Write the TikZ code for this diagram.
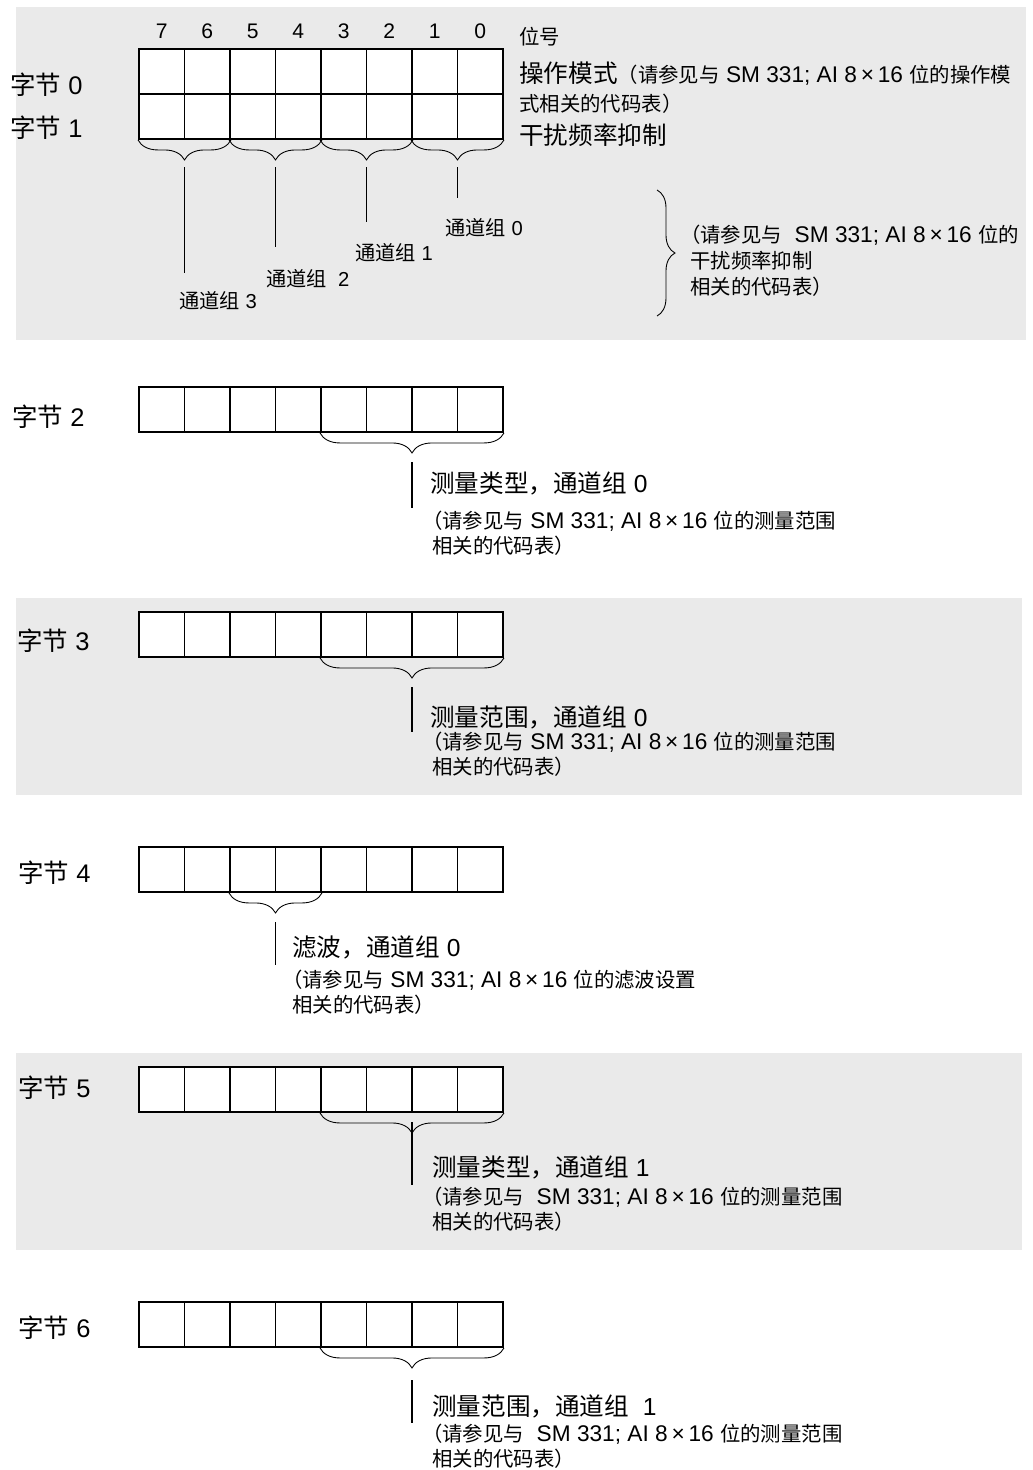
\documentclass[tikz,border=0pt]{standalone}
\usepackage{fontspec}
\setmainfont{Liberation Sans}
\newfontfamily\cjk{Noto Sans CJK SC}
\newfontfamily\cjksub[Scale=0.9]{Noto Sans CJK SC}
\newcommand{\zh}[1]{{\cjk #1}}
\newcommand{\zs}[1]{{\cjksub #1}}
\usepackage{tikz}
\usetikzlibrary{decorations.pathreplacing}
\definecolor{panelgray}{RGB}{234,234,234}

\begin{document}
\begin{tikzpicture}[x=0.02cm, y=-0.02cm,
    panel/.style={fill=panelgray, draw=none},
    cell/.style={
        rectangle, draw=black, line width=1.1pt, fill=white,
        minimum width=0.91cm, minimum height=0.9cm, inner sep=0pt
    },
    bitnum/.style={font=\fontsize{12}{14}\selectfont, inner sep=0pt},
    bytelabel/.style={anchor=west, inner sep=0pt, font=\fontsize{14.5}{17}\selectfont},
    mainlabel/.style={anchor=west, inner sep=0pt, font=\fontsize{14}{17}\selectfont},
    grplabel/.style={anchor=west, inner sep=0pt, font=\fontsize{11.5}{14}\selectfont},
    note/.style={anchor=west, inner sep=0pt, align=left, font=\fontsize{12.9}{14.2}\selectfont},
    brace/.style={decorate, decoration={brace, mirror, amplitude=0.4cm}, line width=0.5pt},
    rbrace/.style={decorate, decoration={brace, amplitude=0.36cm}, line width=0.5pt},
    lead/.style={line width=0.85pt},
]
\useasboundingbox (0,0) rectangle (1033,1470);

%% Pannelli grigi
\fill[panel] (16,7) rectangle (1026,340);
\fill[panel] (16,598) rectangle (1022,795);
\fill[panel] (16,1053) rectangle (1022,1250);

%% Celle dei byte
\foreach \rw/\yc in {0/71.5, 1/116.5, 2/409.5, 3/634.5, 4/869.5, 5/1089.5, 6/1324.5}
    \foreach \bt in {0,...,7}
        \node[cell] (r\rw b\bt) at ({161.75+(7-\bt)*45.5},\yc) {};

%% Numeri dei bit
\foreach \bt in {0,...,7}
    \node[bitnum] (bit\bt) at ({161.75+(7-\bt)*45.5},31) {\bt};

%% Etichette dei byte
\node[bytelabel] (lb0) at (10,85) {\zh{字节} 0};
\node[bytelabel] (lb1) at (10,128) {\zh{字节} 1};
\node[bytelabel] (lb2) at (12,417) {\zh{字节} 2};
\node[bytelabel] (lb3) at (17,641) {\zh{字节} 3};
\node[bytelabel] (lb4) at (18,873) {\zh{字节} 4};
\node[bytelabel] (lb5) at (18,1088) {\zh{字节} 5};
\node[bytelabel] (lb6) at (18,1328) {\zh{字节} 6};

%% Byte 0 / 1
\node[note] (bitno) at (519,37) {\zs{位号}};
\node[note, font=\fontsize{12.9}{16.4}\selectfont] (opmode) at (519,88)
    {{\fontsize{14}{16.4}\selectfont\zh{操作模式}}\zs{（请参见与} SM 331; AI 8\,×\,16 \zs{位的操作模}\\
     \zs{式相关的代码表）}};
\node[mainlabel] (nrej) at (519,135) {\zh{干扰频率抑制}};

\draw[brace] (r1b7.south west) -- (r1b6.south east);
\draw[brace] (r1b5.south west) -- (r1b4.south east);
\draw[brace] (r1b3.south west) -- (r1b2.south east);
\draw[brace] (r1b1.south west) -- (r1b0.south east);

\coordinate (g3a) at (184.5,167); \coordinate (g3b) at (184.5,273);
\coordinate (g2a) at (275.5,167); \coordinate (g2b) at (275.5,247);
\coordinate (g1a) at (366.5,167); \coordinate (g1b) at (366.5,222);
\coordinate (g0a) at (457.5,167); \coordinate (g0b) at (457.5,198);
\draw[lead] (g3a) -- (g3b);
\draw[lead] (g2a) -- (g2b);
\draw[lead] (g1a) -- (g1b);
\draw[lead] (g0a) -- (g0b);

\node[grplabel] (grp0) at (445,228) {\zh{通道组} 0};
\node[grplabel] (grp1) at (355,253) {\zh{通道组} 1};
\node[grplabel] (grp2) at (266,279) {\zh{通道组}\ \ 2};
\node[grplabel] (grp3) at (179,301) {\zh{通道组} 3};

\coordinate (rbt) at (657,190);
\coordinate (rbb) at (657,316);
\draw[rbrace] (rbt) -- (rbb);
\node[note, font=\fontsize{12.9}{14.7}\selectfont] (rejnote) at (690,261)
    {\kern-.45em\zs{（请参见与}\ \ SM 331; AI 8\,×\,16 \zs{位的}\\
     \zs{干扰频率抑制}\\
     \zs{相关的代码表）}};

%% Byte 2
\draw[brace] (r2b3.south west) -- (r2b0.south east);
\coordinate (l2a) at (412,462); \coordinate (l2b) at (412,508);
\draw[lead] (l2a) -- (l2b);
\node[mainlabel] (t2) at (430,483) {\zh{测量类型，通道组} 0};
\node[note] (n2) at (432,533.5)
    {\kern-.45em\zs{（请参见与} SM 331; AI 8\,×\,16 \zs{位的测量范围}\\
     \zs{相关的代码表）}};

%% Byte 3
\draw[brace] (r3b3.south west) -- (r3b0.south east);
\coordinate (l3a) at (412,687); \coordinate (l3b) at (412,732);
\draw[lead] (l3a) -- (l3b);
\node[mainlabel] (t3) at (430,717) {\zh{测量范围，通道组} 0};
\node[note] (n3) at (432,754.5)
    {\kern-.45em\zs{（请参见与} SM 331; AI 8\,×\,16 \zs{位的测量范围}\\
     \zs{相关的代码表）}};

%% Byte 4
\draw[brace] (r4b5.south west) -- (r4b4.south east);
\coordinate (l4a) at (275.5,922); \coordinate (l4b) at (275.5,965);
\draw[lead] (l4a) -- (l4b);
\node[mainlabel] (t4) at (292,947) {\zh{滤波，通道组} 0};
\node[note] (n4) at (292,992.5)
    {\kern-.45em\zs{（请参见与} SM 331; AI 8\,×\,16 \zs{位的滤波设置}\\
     \zs{相关的代码表）}};

%% Byte 5
\draw[brace] (r5b3.south west) -- (r5b0.south east);
\coordinate (l5a) at (412,1122); \coordinate (l5b) at (412,1185);
\draw[lead] (l5a) -- (l5b);
\node[mainlabel] (t5) at (432,1167) {\zh{测量类型，通道组} 1};
\node[note] (n5) at (432,1209.5)
    {\kern-.45em\zs{（请参见与}\ \ SM 331; AI 8\,×\,16 \zs{位的测量范围}\\
     \zs{相关的代码表）}};

%% Byte 6
\draw[brace] (r6b3.south west) -- (r6b0.south east);
\coordinate (l6a) at (412,1380); \coordinate (l6b) at (412,1423);
\draw[lead] (l6a) -- (l6b);
\node[mainlabel] (t6) at (432,1406) {\zh{测量范围，通道组}\ \ 1};
\node[note] (n6) at (432,1446.5)
    {\kern-.45em\zs{（请参见与}\ \ SM 331; AI 8\,×\,16 \zs{位的测量范围}\\
     \zs{相关的代码表）}};

\end{tikzpicture}
\end{document}
